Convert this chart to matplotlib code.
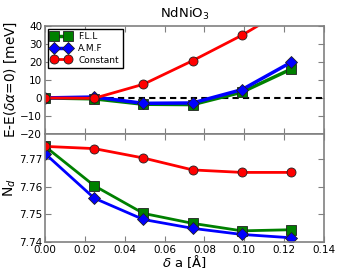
import matplotlib
matplotlib.use('Agg')
import matplotlib.pyplot as plt

# displacement (Angstrom)
da = [0.0, 0.0247, 0.0494, 0.0741, 0.0988, 0.1235]

# energy differences (meV)
e_fll = [0.0, -0.5, -3.5, -3.7, 3.2, 16.0]
e_amf = [0.0, 0.5, -3.0, -2.8, 4.6, 19.8]
e_const = [0.0, -0.2, 7.6, 20.7, 34.8, 51.0]

# d occupations
n_fll = [7.7745, 7.7603, 7.7503, 7.7467, 7.7440, 7.7444]
n_amf = [7.7719, 7.7558, 7.7481, 7.7449, 7.7427, 7.7415]
n_const = [7.7745, 7.7737, 7.7703, 7.7660, 7.7651, 7.7651]

plt.rcParams['font.size'] = 7.5
plt.rcParams['xtick.direction'] = 'in'
plt.rcParams['ytick.direction'] = 'in'
plt.rcParams['xtick.top'] = True
plt.rcParams['ytick.right'] = True
plt.rcParams['lines.markeredgewidth'] = 0.6
plt.rcParams['lines.markeredgecolor'] = '#202020'

fig, (ax1, ax2) = plt.subplots(2, 1, figsize=(3.6, 2.7), dpi=100, sharex=True)
fig.subplots_adjust(left=0.125, right=0.9, bottom=0.104, top=0.904, hspace=0)

ax1.axhline(0, color='black', linestyle='--', linewidth=1.5, dashes=(3, 2))
ax1.plot(da, e_fll, color='green', marker='s', markersize=6.5, linewidth=2.5, label='F.L.L')
ax1.plot(da, e_amf, color='blue', marker='D', markersize=6.5, linewidth=2.5, label='A.M.F')
ax1.plot(da, e_const, color='red', marker='o', markersize=6.5, linewidth=2, label='Constant')
ax1.set_ylim(-20, 40)
ax1.set_yticks([-20, -10, 0, 10, 20, 30, 40])
ax1.set_ylabel(r'E-E($\delta\alpha$=0) [meV]', fontsize=9.8, labelpad=1)
ax1.set_title(r'NdNiO$_3$', fontsize=9.5)
leg = ax1.legend(loc='upper left', numpoints=2, fontsize=6.5, fancybox=False,
                 framealpha=1, edgecolor='black', handlelength=2.2,
                 borderaxespad=0.3, labelspacing=0.3)

ax2.plot(da, n_fll, color='green', marker='s', markersize=6.5, linewidth=2)
ax2.plot(da, n_amf, color='blue', marker='D', markersize=6.5, linewidth=2)
ax2.plot(da, n_const, color='red', marker='o', markersize=6.5, linewidth=2)
ax2.set_ylim(7.74, 7.779)
ax2.set_yticks([7.74, 7.75, 7.76, 7.77])
ax2.set_ylabel(r'N$_d$', fontsize=10, labelpad=1)
ax2.set_xlim(0, 0.14)
ax2.set_xticks([0.0, 0.02, 0.04, 0.06, 0.08, 0.10, 0.12, 0.14])
ax2.set_xticklabels(['0.00', '0.02', '0.04', '0.06', '0.08', '0.10', '0.12', '0.14'])
ax2.set_xlabel(r'$\delta$ a [$\mathrm{\AA}$]', fontsize=9.5, labelpad=-1)

for ax in (ax1, ax2):
    for s in ax.spines.values():
        s.set_color('#808080')
        s.set_linewidth(1.2)
    ax.tick_params(colors='#808080', labelcolor='black', length=4, pad=2)

fig.savefig('out.png', dpi=100)
